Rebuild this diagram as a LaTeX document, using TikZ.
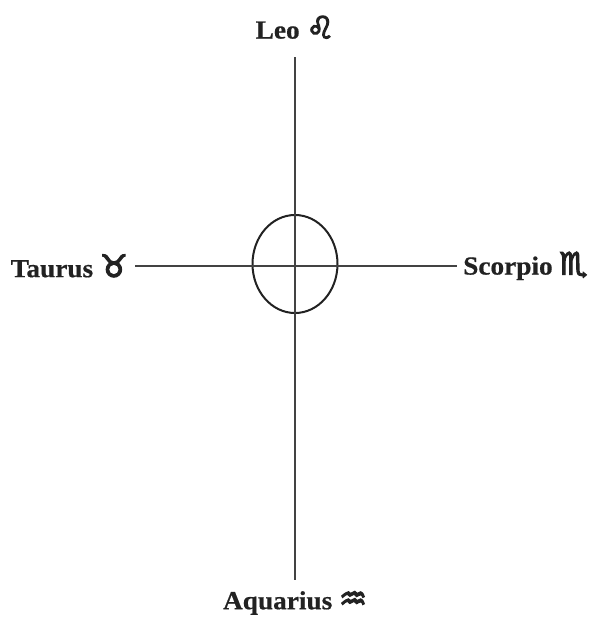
\documentclass[tikz,border=0pt]{standalone}
\usepackage{fontspec}
\usetikzlibrary{positioning,calc,shapes.geometric}
\setmainfont{Liberation Serif}
\newfontfamily\wordfont{Liberation Serif}[FakeStretch=1.05, FakeBold=0.6]
\newfontfamily\zodiac{DejaVu Sans}[FakeBold=4]
\definecolor{ink}{HTML}{222222}
\newcommand{\glyph}[1]{{\zodiac\fontsize{31}{34}\selectfont #1}}
\tikzset{
  sign/.style={font=\wordfont\fontsize{26}{30}\selectfont\bfseries, text=ink, inner sep=4pt},
  axis/.style={draw=ink!85, line width=1.5pt},
  orb/.style={draw=ink, line width=2pt}
}

\begin{document}
\begin{tikzpicture}[x=1pt, y=-1pt]
  \useasboundingbox (0,0) rectangle (593,624);
  % centre ring
  \node[orb, ellipse, minimum width=85pt, minimum height=98pt, inner sep=0pt] (ring) at (295,264) {};
  % four signs round the cross
  \node[sign, anchor=south, inner ysep=18pt] (leo) at (295,57) {Leo \glyph{♌}};
  \node[sign, anchor=north, inner ysep=11pt] (aquarius) at (295,580) {Aquarius \glyph{♒}};
  \node[sign, anchor=east, inner xsep=7pt] (taurus) at (135,266) {Taurus \glyph{♉}};
  \node[sign, anchor=west, inner xsep=6pt] (scorpio) at (457,266) {Scorpio \glyph{♏}};
  \draw[axis] (leo.south -| ring.center) -- (aquarius.north -| ring.center);
  \draw[axis] (taurus.east) -- (scorpio.west);
\end{tikzpicture}
\end{document}
